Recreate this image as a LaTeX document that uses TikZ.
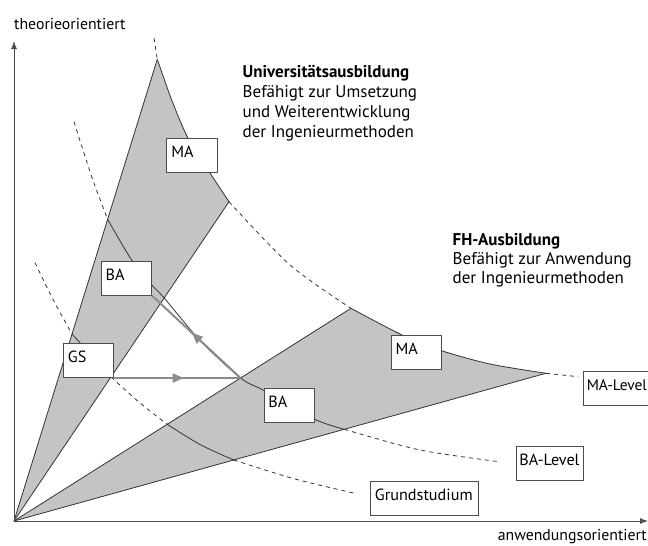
\documentclass[tikz,border=0pt]{standalone}
\usepackage{fontspec}
\setmainfont{PT Sans}
\usetikzlibrary{calc,arrows.meta,decorations.markings}
\newcommand\dgdesc{\fontsize{17}{20}\selectfont}
\newcommand\dgaxis{\fontsize{15.8}{19}\selectfont}
\newcommand\dgbox{\fontsize{16.2}{19}\selectfont}
\newcommand\dgboxs{\fontsize{15.4}{19}\selectfont}
\begin{document}
\begin{tikzpicture}[x=1pt,y=-1pt,
  curve/.style={draw=black!80, line width=0.8pt},
  dashcurve/.style={curve, dash pattern=on 4pt off 4pt},
  region/.style={fill=black!23},
  axisline/.style={draw=black!70, line width=1pt, -{Latex[length=8pt,width=6pt]}},
  lbox/.style={draw=black!70, line width=0.9pt, fill=white, inner xsep=4.5pt, inner ysep=0pt,
    text height=19pt, text depth=15pt, align=left, anchor=north west, font=\dgbox, text width=#1},
  flowarrow/.style={color=black!45, line width=2pt, postaction={decorate},
    decoration={markings, mark=at position 0.55 with {\arrow{Triangle[length=11pt,width=9pt]}}}},
  desc/.style={anchor=base west, inner sep=0pt, font=\dgdesc},
]
\useasboundingbox (0,0) rectangle (648,546);

% key points
\coordinate (O) at (14,521);
\coordinate (Pk) at (157.3,59.3);
\coordinate (Q2) at (229,201.7);
\coordinate (Q3) at (351,308.3);
\coordinate (Q4) at (546,373.3);
\coordinate (B1) at ($(O)!0.6534!(Pk)$);
\coordinate (B2) at ($(O)!0.6984!(Q2)$);
\coordinate (B3) at ($(O)!0.6723!(Q3)$);
\coordinate (B4) at ($(O)!0.6209!(Q4)$);
\coordinate (G1) at ($(O)!0.405!(Pk)$);
\coordinate (G2) at ($(O)!0.451!(Q2)$);
\coordinate (G3) at ($(O)!0.4546!(Q3)$);
\coordinate (G4) at ($(O)!0.413!(Q4)$);
\coordinate (ytop) at (14,41);
\coordinate (xend) at (648,521);

% gray regions
\fill[region] (O) -- plot[smooth] coordinates {(Pk) (171.7,100) (188,138) (210,173) (Q2)} -- cycle;
\fill[region] (O) -- plot[smooth] coordinates {(Q3) (402,335) (441,350.5) (490,364) (Q4)} -- cycle;

% rays
\draw[curve] (O) -- (Pk);
\draw[curve] (O) -- (Q2);
\draw[curve] (O) -- (Q3);
\draw[curve] (O) -- (Q4);

% MA level curve
\draw[dashcurve] (154,38) -- (Pk);
\draw[curve] plot[smooth] coordinates {(Pk) (171.7,100) (188,138) (210,173) (Q2)};
\draw[dashcurve] plot[smooth] coordinates {(Q2) (290,265) (Q3)};
\draw[curve] plot[smooth] coordinates {(Q3) (402,335) (441,350.5) (490,364) (Q4)};
\draw[dashcurve] (Q4) -- (578.3,376.7);

% BA level curve
\draw[dashcurve] plot[smooth] coordinates {(74,121.7) (91.7,176.7) (B1)};
\draw[curve] plot[smooth] coordinates {(B1) (131,259) (151,284) (B2) (200.5,341) (B3) (264,390.5) (314,419) (B4)};
\draw[dashcurve] plot[smooth] coordinates {(B4) (420,450) (499.3,461.7)};

% Grundstudium curve
\draw[dashcurve] plot[smooth] coordinates {(35,262.7) (53.3,300) (G1)};
\draw[curve] (G1) -- (G2);
\draw[dashcurve] plot[smooth] coordinates {(G2) (140,403) (G3)};
\draw[curve] plot[smooth] coordinates {(G3) (200,444.5) (G4)};
\draw[dashcurve] plot[smooth] coordinates {(G4) (295,479) (355,493.3)};

% boxes
\node[lbox=41.7pt] (ma1) at (166.3,138.3) {\mbox{MA}};
\node[lbox=41.3pt] (ba1) at (100.7,260.7) {\mbox{BA}};
\node[lbox=41.3pt] (gs) at (63,342.7) {\mbox{GS}};
\node[lbox=41.7pt] (ba2) at (263.5,388) {\mbox{BA}};
\node[lbox=41.3pt] (ma2) at (390.7,335) {\mbox{MA}};
\node[lbox=66pt, inner xsep=3pt, font=\dgboxs] (malevel) at (583.3,370.7) {\mbox{MA-Level}};
\node[lbox=61.3pt, inner xsep=3pt] (balevel) at (516,446) {\mbox{BA-Level}};
\node[lbox=99.3pt] (grund) at (370,481) {\mbox{Grundstudium}};

% flow arrows
\draw[flowarrow] (gs.south east |- B3) -- (B3);
\draw[flowarrow] (B3) -- (ba1.south east);

% axes
\draw[axisline] (O) -- (ytop);
\draw[axisline] (O) -- (xend);
\node[desc, font=\dgaxis] (ylab) at (14,29) {theorieorientiert};
\node[desc, font=\dgaxis, anchor=base east] (xlab) at (647,540) {anwendungsorientiert};

% descriptions
\node[desc, font=\dgdesc\bfseries] (u1) at (242.5,77) {Universitätsausbildung};
\node[desc] (u2) at (242.5,97) {Befähigt zur Umsetzung};
\node[desc] (u3) at (242.5,117) {und Weiterentwicklung};
\node[desc] (u4) at (242.5,137) {der Ingenieurmethoden};
\node[desc, font=\dgdesc\bfseries] (f1) at (452.5,245) {FH-Ausbildung};
\node[desc] (f2) at (452.5,264) {Befähigt zur Anwendung};
\node[desc] (f3) at (452.5,283) {der Ingenieurmethoden};
\end{tikzpicture}
\end{document}
